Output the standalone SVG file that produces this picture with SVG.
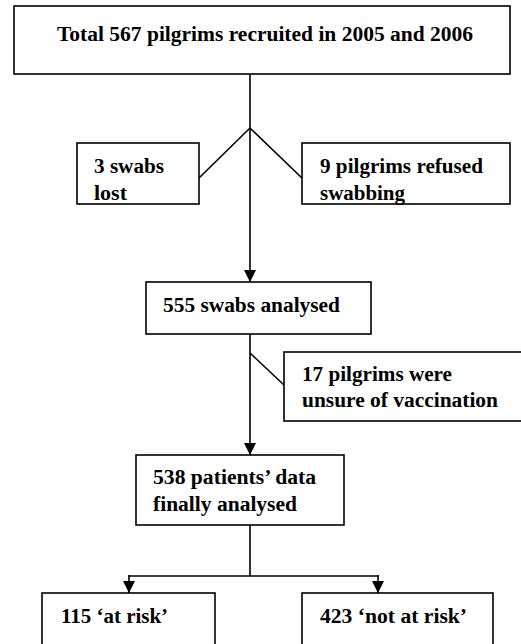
<svg xmlns="http://www.w3.org/2000/svg" width="521" height="644" viewBox="0 0 521 644">
<style>
.box{fill:#fff;stroke:#000;stroke-width:1.6}
.ln{fill:none;stroke:#000;stroke-width:1.6}
.t{font-family:'Liberation Serif','DejaVu Serif','Times New Roman',Times,serif;font-weight:700;font-size:20px;fill:#000}
</style>
<defs>
<marker id="ah" viewBox="0 0 12 12" refX="12" refY="6" markerWidth="12" markerHeight="12" markerUnits="userSpaceOnUse" orient="auto">
<path d="M0,0 L12,6 L0,12 Z" fill="#000"/>
</marker>
</defs>
<rect width="521" height="644" fill="#fff"/>
<g id="connectors">
<line class="ln" x1="250" y1="74" x2="250" y2="282" marker-end="url(#ah)"/>
<polyline class="ln" points="199,178 250,128 302,178"/>
<line class="ln" x1="250" y1="334" x2="250" y2="455" marker-end="url(#ah)"/>
<line class="ln" x1="250" y1="353" x2="284" y2="385"/>
<line class="ln" x1="250" y1="525" x2="250" y2="576"/>
<line class="ln" x1="128" y1="576" x2="379" y2="576"/>
<line class="ln" x1="129" y1="575" x2="129" y2="593" marker-end="url(#ah)"/>
<line class="ln" x1="378" y1="575" x2="378" y2="593" marker-end="url(#ah)"/>
</g>
<g id="n_total">
<rect class="box" x="14" y="6" width="496" height="68"/>
<text class="t" x="57" y="41" textLength="416" lengthAdjust="spacingAndGlyphs">Total 567 pilgrims recruited in 2005 and 2006</text>
</g>
<g id="n_lost">
<rect class="box" x="77" y="143" width="122" height="61"/>
<text class="t" x="94" y="173" textLength="70" lengthAdjust="spacingAndGlyphs">3 swabs</text>
<text class="t" x="94" y="200" textLength="33" lengthAdjust="spacingAndGlyphs">lost</text>
</g>
<g id="n_refused">
<rect class="box" x="302" y="143" width="208" height="61"/>
<text class="t" x="320" y="173" textLength="163" lengthAdjust="spacingAndGlyphs">9 pilgrims refused</text>
<text class="t" x="320" y="200" textLength="85" lengthAdjust="spacingAndGlyphs">swabbing</text>
</g>
<g id="n_555">
<rect class="box" x="146" y="282" width="225" height="52"/>
<text class="t" x="163" y="312" textLength="177" lengthAdjust="spacingAndGlyphs">555 swabs analysed</text>
</g>
<g id="n_unsure">
<rect class="box" x="284" y="352" width="240" height="69"/>
<text class="t" x="302" y="381" textLength="150" lengthAdjust="spacingAndGlyphs">17 pilgrims were</text>
<text class="t" x="302" y="407" textLength="196" lengthAdjust="spacingAndGlyphs">unsure of vaccination</text>
</g>
<g id="n_538">
<rect class="box" x="136" y="455" width="208" height="70"/>
<text class="t" x="153" y="484" textLength="163" lengthAdjust="spacingAndGlyphs">538 patients’ data</text>
<text class="t" x="153" y="511" textLength="144" lengthAdjust="spacingAndGlyphs">finally analysed</text>
</g>
<g id="n_atrisk">
<rect class="box" x="42" y="593" width="173" height="60"/>
<text class="t" x="61" y="623" textLength="107" lengthAdjust="spacingAndGlyphs">115 ‘at risk’</text>
</g>
<g id="n_notatrisk">
<rect class="box" x="302" y="593" width="191" height="60"/>
<text class="t" x="320" y="623" textLength="147" lengthAdjust="spacingAndGlyphs">423 ‘not at risk’</text>
</g>
</svg>
